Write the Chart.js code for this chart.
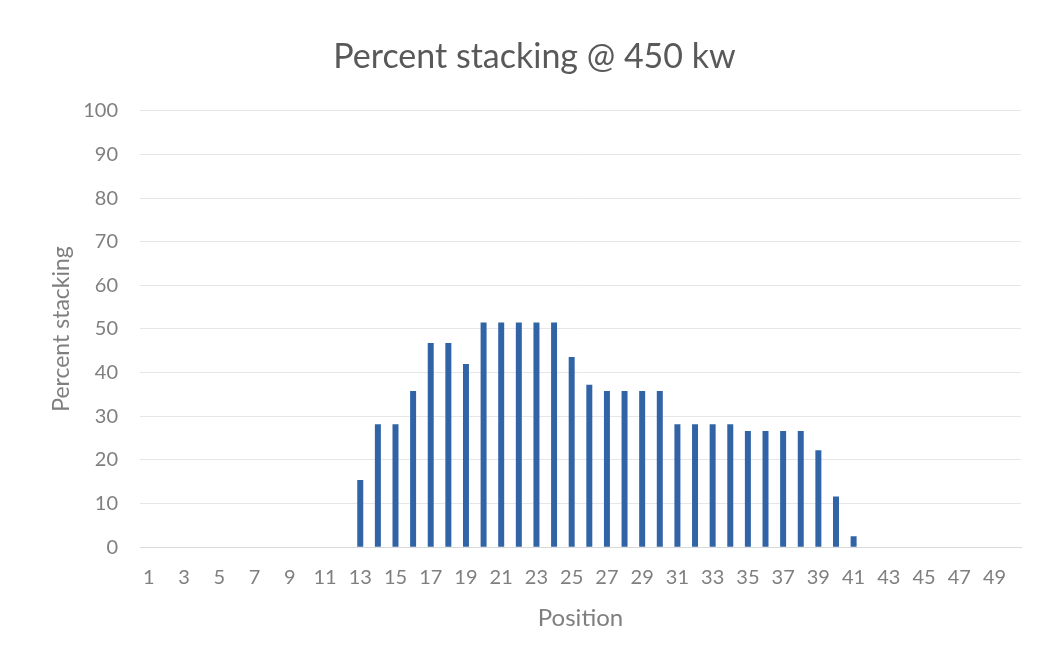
<!DOCTYPE html>
<html>
<head>
<meta charset="utf-8">
<script src="https://cdn.jsdelivr.net/npm/chart.js@4/dist/chart.umd.min.js"></script>
<style>
  html, body { margin: 0; padding: 0; background: #ffffff; }
  #wrap { width: 1043px; height: 660px; position: relative; }
</style>
</head>
<body>
<div id="wrap"><canvas id="c" width="1043" height="660"></canvas></div>
<script>
// Positions 1..50 along the bed
const positions = Array.from({ length: 50 }, (_, i) => String(i + 1));

// Percent stacking per position (zero outside 13..41)
const stacking = [
  0, 0, 0, 0, 0, 0, 0, 0, 0, 0,
  0, 0, 15.4, 28.2, 28.2, 35.8, 46.8, 46.8, 42.0, 51.5,
  51.5, 51.5, 51.5, 51.5, 43.6, 37.2, 35.8, 35.8, 35.8, 35.8,
  28.2, 28.2, 28.2, 28.2, 26.6, 26.6, 26.6, 26.6, 22.2, 11.6,
  2.5, 0, 0, 0, 0, 0, 0, 0, 0, 0
];

// Value-axis ticks
const yTicks = [0, 10, 20, 30, 40, 50, 60, 70, 80, 90, 100];

const FONT = "Lato, 'Open Sans', sans-serif";
const GREY = '#7f7f7f';

new Chart(document.getElementById('c'), {
  type: 'bar',
  data: {
    labels: positions,
    datasets: [{
      label: 'Percent stacking',
      data: stacking,
      backgroundColor: '#3164a6',
      borderWidth: 0,
      barPercentage: 0.34,
      categoryPercentage: 1.0
    }]
  },
  options: {
    responsive: false,
    animation: false,
    layout: { padding: { left: 48, right: 22, top: 37, bottom: 27 } },
    plugins: {
      legend: { display: false },
      tooltip: { enabled: false },
      title: {
        display: true,
        text: 'Percent stacking @ 450 kw',
        color: '#595959',
        font: { family: FONT, size: 34, weight: 'normal' },
        padding: { top: 0, bottom: 33 }
      }
    },
    scales: {
      x: {
        grid: { display: false },
        border: { display: true, color: '#d9d9d9' },
        ticks: {
          autoSkip: false,
          maxRotation: 0,
          minRotation: 0,
          color: GREY,
          padding: 10,
          font: { family: FONT, size: 20 },
          callback: (v, i) => (i % 2 === 0 ? positions[i] : '')
        },
        title: {
          display: true,
          text: 'Position',
          color: GREY,
          font: { family: FONT, size: 24 },
          padding: { top: 5, bottom: 0 }
        }
      },
      y: {
        min: 0,
        max: 100,
        afterBuildTicks: (s) => { s.ticks = yTicks.map(v => ({ value: v })); },
        afterFit: (s) => { s.width = 92; },
        grid: { color: '#e6e6e6', drawTicks: false },
        border: { display: false },
        ticks: {
          color: GREY,
          padding: 22,
          font: { family: FONT, size: 20 }
        },
        title: {
          display: true,
          text: 'Percent stacking',
          color: GREY,
          font: { family: FONT, size: 23 },
          padding: { top: 0, bottom: 0 }
        }
      }
    }
  }
});
</script>
</body>
</html>
